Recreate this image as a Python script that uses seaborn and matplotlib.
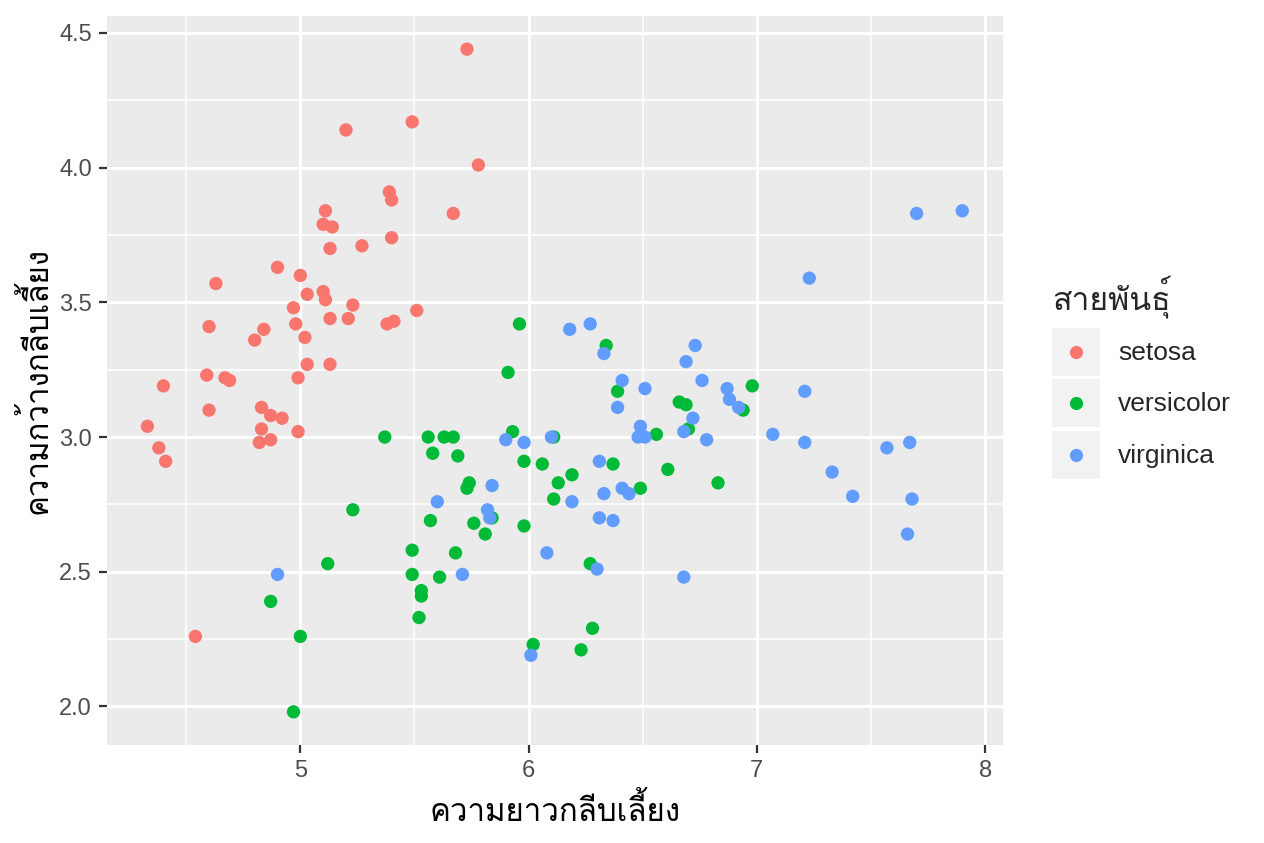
import numpy as np
import pandas as pd
import matplotlib
matplotlib.use('Agg')
import matplotlib.pyplot as plt
import seaborn as sns
from matplotlib import font_manager
from matplotlib.ft2font import FT2Font
from matplotlib.patches import Rectangle
from matplotlib.lines import Line2D
from matplotlib.legend_handler import HandlerBase
from matplotlib.ticker import MultipleLocator, FormatStrFormatter

# ความยาว / ความกว้างกลีบเลี้ยง อ่านค่าจากภาพ
setosa_x = [5.73, 5.49, 5.20, 5.78, 5.39, 5.40, 5.67, 5.11, 5.10, 5.14,
            5.40, 5.27, 5.13, 4.90, 5.00, 4.63, 5.03, 5.10, 5.11, 4.97,
            5.23, 5.51, 4.60, 4.84, 4.80, 4.98, 5.13, 5.21, 5.38, 5.41,
            5.02, 5.03, 5.13, 4.59, 4.40, 4.67, 4.69, 4.99, 4.60, 4.83,
            4.87, 4.92, 4.33, 4.83, 4.99, 4.82, 4.87, 4.38, 4.41, 4.54]
setosa_y = [4.44, 4.17, 4.14, 4.01, 3.91, 3.88, 3.83, 3.84, 3.79, 3.78,
            3.74, 3.71, 3.70, 3.63, 3.60, 3.57, 3.53, 3.54, 3.51, 3.48,
            3.49, 3.47, 3.41, 3.40, 3.36, 3.42, 3.44, 3.44, 3.42, 3.43,
            3.37, 3.27, 3.27, 3.23, 3.19, 3.22, 3.21, 3.22, 3.10, 3.11,
            3.08, 3.07, 3.04, 3.03, 3.02, 2.98, 2.99, 2.96, 2.91, 2.26]

versicolor_x = [5.37, 5.56, 5.63, 5.67, 5.93, 6.11, 5.58, 5.69, 5.98, 6.06,
                6.19, 6.13, 5.74, 5.73, 6.11, 5.23, 5.57, 5.76, 5.84, 5.81,
                5.98, 5.49, 5.68, 5.49, 5.61, 5.53, 5.53, 5.52, 6.27, 6.28,
                6.56, 6.70, 6.37, 6.61, 6.49, 6.83, 6.02, 6.23, 5.96, 6.34,
                5.91, 6.39, 6.66, 6.69, 6.98, 6.94, 5.12, 4.87, 5.00, 4.97]
versicolor_y = [3.00, 3.00, 3.00, 3.00, 3.02, 3.00, 2.94, 2.93, 2.91, 2.90,
                2.86, 2.83, 2.83, 2.81, 2.77, 2.73, 2.69, 2.68, 2.70, 2.64,
                2.67, 2.58, 2.57, 2.49, 2.48, 2.43, 2.41, 2.33, 2.53, 2.29,
                3.01, 3.03, 2.90, 2.88, 2.81, 2.83, 2.23, 2.21, 3.42, 3.34,
                3.24, 3.17, 3.13, 3.12, 3.19, 3.10, 2.53, 2.39, 2.26, 1.98]

virginica_x = [5.90, 5.98, 6.10, 5.84, 5.60, 5.82, 5.83, 6.08, 5.71, 6.30,
               6.49, 6.48, 6.51, 6.68, 6.78, 6.31, 6.41, 6.44, 6.33, 6.19,
               6.31, 6.37, 6.68, 6.01, 6.18, 6.27, 6.33, 6.73, 6.69, 6.41,
               6.51, 6.39, 6.76, 6.87, 6.88, 6.92, 6.72, 4.90, 7.70, 7.90,
               7.23, 7.21, 7.07, 7.21, 7.57, 7.67, 7.33, 7.42, 7.68, 7.66]
virginica_y = [2.99, 2.98, 3.00, 2.82, 2.76, 2.73, 2.70, 2.57, 2.49, 2.51,
               3.04, 3.00, 3.00, 3.02, 2.99, 2.91, 2.81, 2.79, 2.79, 2.76,
               2.70, 2.69, 2.48, 2.19, 3.40, 3.42, 3.31, 3.34, 3.28, 3.21,
               3.18, 3.11, 3.21, 3.18, 3.14, 3.11, 3.07, 2.49, 3.83, 3.84,
               3.59, 3.17, 3.01, 2.98, 2.96, 2.98, 2.87, 2.78, 2.77, 2.64]

species = ['setosa', 'versicolor', 'virginica']
colors = ['#F8766D', '#00BA38', '#619CFF']

df = pd.DataFrame({
    'x': setosa_x + versicolor_x + virginica_x,
    'y': setosa_y + versicolor_y + virginica_y,
    'sp': ['setosa'] * 50 + ['versicolor'] * 50 + ['virginica'] * 50,
})

# หาฟอนต์ที่มีอักษรไทย
thai_font = None
for f in font_manager.fontManager.ttflist:
    try:
        if 0x0E01 in FT2Font(f.fname).get_charmap():
            thai_font = f.name
            break
    except Exception:
        pass

sns.set_theme(style='darkgrid')
fams = ['Liberation Sans', 'DejaVu Sans']
if thai_font:
    fams = ['Liberation Sans', thai_font, 'DejaVu Sans']
plt.rcParams['font.family'] = fams


class KeyHandler(HandlerBase):
    # กล่องสีเทาแบบ ggplot + จุดตรงกลาง
    def create_artists(self, legend, orig_handle, xdescent, ydescent,
                       width, height, fontsize, trans):
        box = Rectangle((-xdescent, -ydescent), width, height,
                        facecolor='#F2F2F2', edgecolor='none', transform=trans)
        dot = Line2D([width / 2 - xdescent], [height / 2 - ydescent],
                     marker='o', linestyle='none', markersize=9.5,
                     markerfacecolor=orig_handle.get_markerfacecolor(),
                     markeredgewidth=0, transform=trans)
        return [box, dot]


fig = plt.figure(figsize=(12.64, 8.43), dpi=100)
ax = fig.add_axes([0.0844, 0.1163, 0.7091, 0.8647])
ax.set_facecolor('#EBEBEB')

sns.scatterplot(data=df, x='x', y='y', hue='sp', palette=colors,
                hue_order=species, s=92, linewidth=0, alpha=1,
                legend=False, ax=ax, zorder=3)

def expand(v):
    lo, hi = min(v), max(v)
    pad = 0.05 * (hi - lo)
    return lo - pad, hi + pad

ax.set_xlim(expand(df['x']))
ax.set_ylim(expand(df['y']))
ax.xaxis.set_major_locator(MultipleLocator(1))
ax.xaxis.set_minor_locator(MultipleLocator(0.5))
ax.yaxis.set_major_locator(MultipleLocator(0.5))
ax.yaxis.set_minor_locator(MultipleLocator(0.25))
ax.yaxis.set_major_formatter(FormatStrFormatter('%.1f'))
ax.xaxis.set_major_formatter(FormatStrFormatter('%d'))

ax.grid(which='major', color='white', linewidth=2.2)
ax.grid(which='minor', color='white', linewidth=1.1)
ax.set_axisbelow(True)
for s in ax.spines.values():
    s.set_visible(False)
ax.tick_params(which='major', length=6, width=1.6, color='#333333',
               labelcolor='#4D4D4D', labelsize=17, pad=4.5,
               bottom=True, left=True)
ax.tick_params(which='minor', length=0)

ax.set_xlabel('ความยาวกลีบเลี้ยง', fontsize=22.5, color='black', labelpad=9)
ax.set_ylabel('ความกว้างกลีบเลี้ยง', fontsize=22.5, color='black', labelpad=4)

handles = [Line2D([], [], marker='o', linestyle='none', markerfacecolor=c)
           for c in colors]

leg = fig.legend(handles, species,
                 handler_map={Line2D: KeyHandler()},
                 loc='upper left', bbox_to_anchor=(1052 / 1264, 1 - 328 / 843),
                 frameon=False, fontsize=19,
                 handlelength=1.82, handleheight=2.42, handletextpad=0.68,
                 labelspacing=0.13, borderpad=0, borderaxespad=0)
fig.text(1052 / 1264, 1 - 297 / 843, 'สายพันธุ์', fontsize=23,
         ha='left', va='center')

plt.savefig('out.png', dpi=100)
